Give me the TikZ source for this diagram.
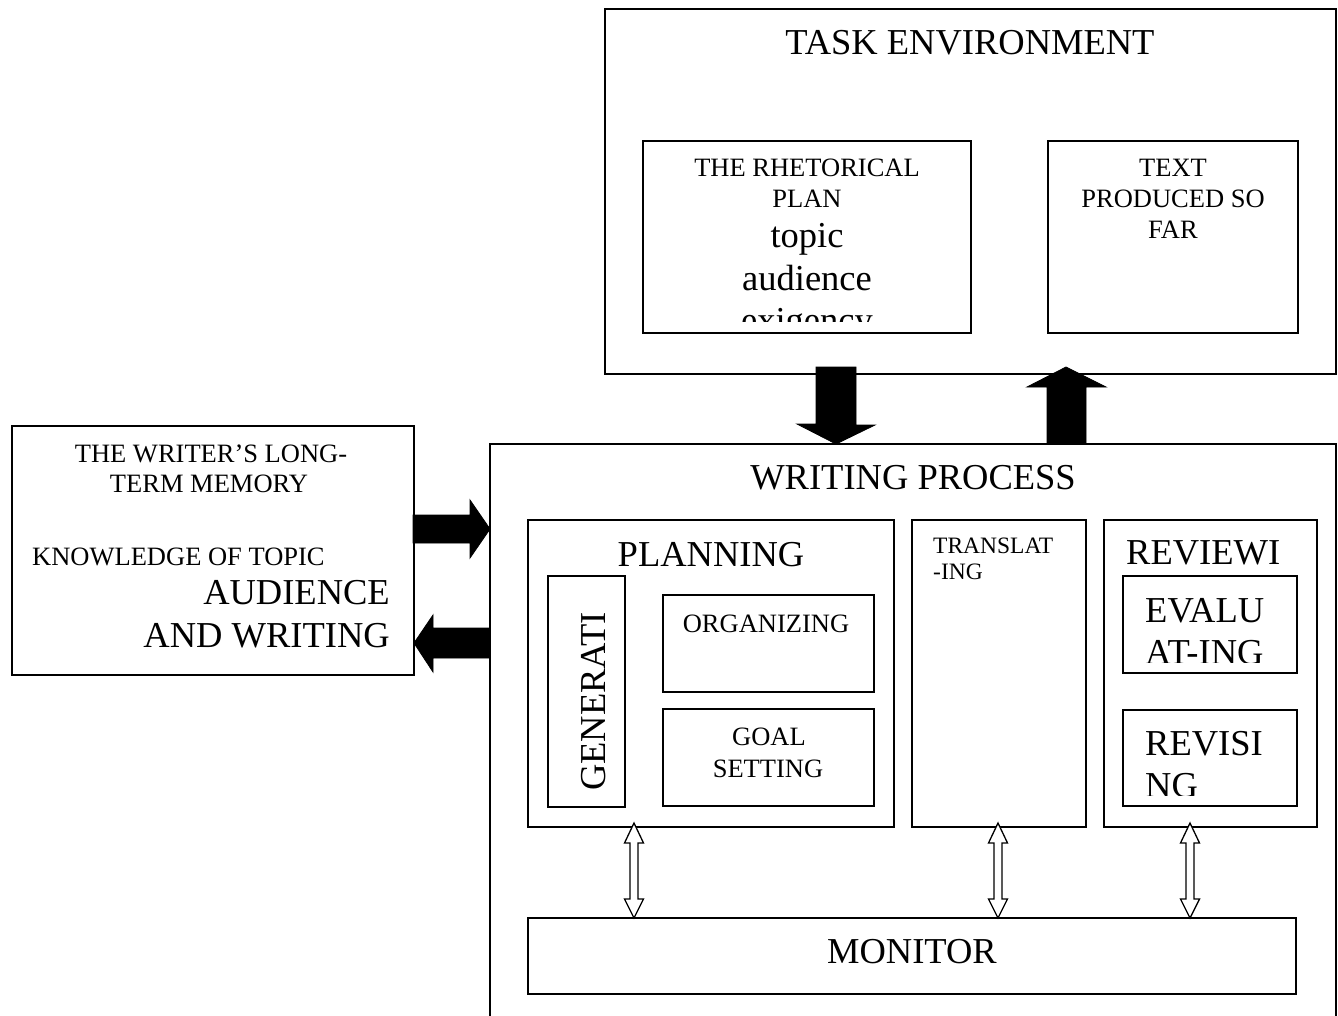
\documentclass[tikz,border=0pt]{standalone}
\usepackage{fontspec}
\setmainfont{Liberation Serif}
\newcommand\fbig{\fontsize{36.5pt}{42pt}\selectfont}
\newcommand\fsm{\fontsize{26.5pt}{31pt}\selectfont}
\newcommand\ftr{\fontsize{23.5pt}{27pt}\selectfont}
\begin{document}
\begin{tikzpicture}[x=1pt,y=-1pt,
  bx/.style={draw, line width=1.5pt, inner sep=0pt, outer sep=0pt},
  tx/.style={inner sep=0pt, anchor=base},
  txl/.style={inner sep=0pt, anchor=base west},
  txr/.style={inner sep=0pt, anchor=base east},
  fat/.style={fill=black, draw=black, line width=0.8pt, line join=miter},
  dblarrow/.pic={\draw[fill=white, line width=1.3pt, line join=miter]
     (0,0) -- (9.5,20) -- (4,20) -- (4,76) -- (9.5,76) -- (0,95)
     -- (-9.5,76) -- (-4,76) -- (-4,20) -- (-9.5,20) -- cycle;}]
\useasboundingbox (0,0) rectangle (1338,1015);
\fill[white] (0,0) rectangle (1338,1015);

% ---- task environment ----
\node[bx, minimum width=731pt, minimum height=365pt] (te) at (970.5,191.5) {};
\node[tx, font=\fbig] (tetxt) at (970,54) {TASK ENVIRONMENT};
\node[bx, minimum width=328pt, minimum height=192pt] (rp) at (807,237) {};
\node[bx, minimum width=250pt, minimum height=192pt] (tp) at (1173,237) {};
\begin{scope}
  \clip (643,141) rectangle (971,321);
  \node[tx, font=\fsm] (rp1) at (807,176) {THE RHETORICAL};
  \node[tx, font=\fsm] (rp2) at (807,207) {PLAN};
  \node[tx, font=\fbig] (rp3) at (807,247) {topic};
  \node[tx, font=\fbig] (rp4) at (807,290) {audience};
  \node[tx, font=\fbig] (rp5) at (807,332) {exigency};
\end{scope}
\node[tx, font=\fsm] (tp1) at (1173,176) {TEXT};
\node[tx, font=\fsm] (tp2) at (1173,207) {PRODUCED SO};
\node[tx, font=\fsm] (tp3) at (1173,238) {FAR};

% ---- long-term memory ----
\node[bx, minimum width=402pt, minimum height=249pt] (ltm) at (213,550.5) {};
\node[tx, font=\fsm] (l1) at (211,462) {THE WRITER’S LONG-};
\node[tx, font=\fsm] (l2) at (209,492) {TERM MEMORY};
\node[txl, font=\fsm] (l3) at (32,565) {KNOWLEDGE OF TOPIC};
\node[txr, font=\fbig] (l4) at (390,604) {AUDIENCE};
\node[txr, font=\fbig] (l5) at (390,647) {AND WRITING};

% ---- writing process ----
\begin{scope}
  \clip (0,0) rectangle (1338,1015);
  \node[bx, minimum width=846pt, minimum height=586pt] (wp) at (913,737) {};
\end{scope}
\node[tx, font=\fbig] (wptxt) at (913,489) {WRITING PROCESS};

\node[bx, minimum width=366pt, minimum height=307pt] (plan) at (711,673.5) {};
\node[tx, font=\fbig] (plantxt) at (711,566) {PLANNING};
\node[bx, minimum width=77pt, minimum height=231pt] (gen) at (586.5,691.5) {};
\node[tx, font=\fbig, rotate=90] (gentxt) at (605,701.5) {GENERATI};
\node[bx, minimum width=211pt, minimum height=97pt] (org) at (768.5,643.5) {};
\node[tx, font=\fsm] (orgtxt) at (766,632) {ORGANIZING};
\node[bx, minimum width=211pt, minimum height=97pt] (goal) at (768.5,757.5) {};
\node[tx, font=\fsm] (goal1) at (769,745) {GOAL};
\node[tx, font=\fsm] (goal2) at (768,777) {SETTING};

\node[bx, minimum width=174pt, minimum height=307pt] (trans) at (999,673.5) {};
\node[txl, font=\ftr] (tr1) at (933,553) {TRANSLAT};
\node[txl, font=\ftr] (tr2) at (933,579) {-ING};

\node[bx, minimum width=213pt, minimum height=307pt] (rev) at (1210.5,673.5) {};
\node[txl, font=\fbig] (revtxt) at (1126,564) {REVIEWI};
\node[bx, minimum width=174pt, minimum height=97pt] (eval) at (1210,624.5) {};
\node[bx, minimum width=174pt, minimum height=96pt] (revis) at (1210,758) {};
\begin{scope}
  \clip (1123,576) rectangle (1297,662);
  \node[txl, font=\fbig] (ev1) at (1145,622) {EVALU};
  \node[txl, font=\fbig] (ev2) at (1145,664) {AT-ING};
\end{scope}
\begin{scope}
  \clip (1123,710) rectangle (1297,795);
  \node[txl, font=\fbig] (rv1) at (1145,755) {REVISI};
  \node[txl, font=\fbig] (rv2) at (1145,797) {NG};
\end{scope}

\node[bx, minimum width=768pt, minimum height=76pt] (mon) at (912,956) {};
\node[tx, font=\fbig] (montxt) at (912,963) {MONITOR};

% ---- fat arrows ----
\coordinate (downtop) at (836,367);
\coordinate (uptip) at (1066,367);
\coordinate (rtip) at (490,529);
\coordinate (ltip) at (414,643);
\fill[fat] (downtop) ++(-20,0) -- ++(40,0) -- ++(0,58) -- ++(19,0)
   -- (wp.north -| downtop) -- ++(-39,-20) -- ++(19,0) -- cycle;
\fill[fat] (uptip) -- ++(40,20) -- ++(-20,0) -- (wp.north -| 1086,0)
   -- (wp.north -| 1047,0) -- (1047,387) -- (1027,387) -- cycle;
\fill[fat] (413,515) -- (470,515) -- (470,500) -- (rtip) -- (470,558)
   -- (470,543) -- (413,543) -- cycle;
\fill[fat] (ltip) -- (433,615) -- (433,628) -- (wp.west |- 0,628)
   -- (wp.west |- 0,658) -- (433,658) -- (433,672) -- cycle;

% ---- open double arrows ----
\coordinate (m1) at (634,823);
\coordinate (m2) at (998,823);
\coordinate (m3) at (1190,823);
\pic at (m1) {dblarrow};
\pic at (m2) {dblarrow};
\pic at (m3) {dblarrow};
\end{tikzpicture}
\end{document}
